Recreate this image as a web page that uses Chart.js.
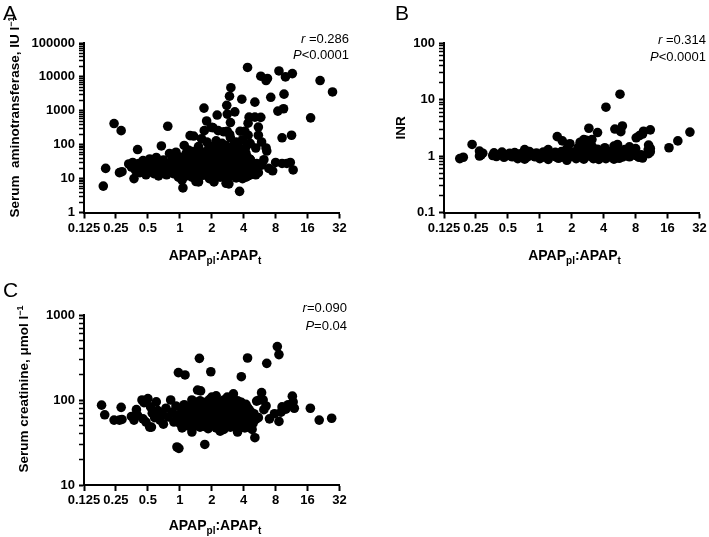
<!DOCTYPE html>
<html>
<head>
<meta charset="utf-8">
<script src="https://cdn.jsdelivr.net/npm/chart.js@4.4.1/dist/chart.umd.min.js"></script>
<style>
  body { margin: 0; background: #fff; }
  #wrap { position: relative; width: 709px; height: 537px; overflow: hidden; }
  canvas { position: absolute; }
</style>
</head>
<body>
<div id="wrap">
  <canvas id="chartA" width="360" height="270" style="left:0;top:0"></canvas>
  <canvas id="chartB" width="349" height="270" style="left:360px;top:0"></canvas>
  <canvas id="chartC" width="360" height="267" style="left:0;top:270px"></canvas>
</div>
<script>
// x axis: APAPpl:APAPt ratio (log2 ticks)
const ratioTicks = [0.125, 0.25, 0.5, 1, 2, 4, 8, 16, 32];
const ratioLabels = ['0.125', '0.25', '0.5', '1', '2', '4', '8', '16', '32'];

// A: serum aminotransferase (IU/l) vs ratio
const pointsA = [
  [0.19,6],[0.2,20],[0.24,420],[0.28,260],[0.27,15],[0.285,16],
  [0.33,27],[0.35,22],[0.37,10],[0.38,18],[0.4,72],[0.41,28],[0.42,15],[0.45,34],[0.46,21],[0.48,13],
  [0.5,28],[0.52,38],[0.53,17],[0.55,24],[0.57,14],[0.58,31],[0.6,42],[0.62,20],[0.63,12],[0.65,26],
  [0.67,92],[0.68,16],[0.7,35],[0.72,22],[0.75,13],[0.77,350],[0.78,28],[0.8,55],[0.82,19],[0.85,40],
  [0.87,14],[0.9,25],[0.92,60],[0.95,32],[0.97,11],
  [0.36,30],[0.43,25],[0.47,17],[0.51,22],[0.56,33],[0.6,16],[0.66,20],[0.71,28],[0.74,17],[0.79,23],
  [0.84,30],[0.88,20],[0.93,17],[0.96,45],
  [1.05,9],[1.3,11],[1.5,8],[1.9,10],[2.1,8],[2.4,11],[2.9,7],[3.3,12],[3.9,10],[4.4,12],
  [1.15,12],[1.4,11.5],[1.65,12.5],[1.9,12],[2.15,11],[2.5,12.5],[2.75,11.5],[3.05,12],[3.4,10.5],[3.75,12.5],[4.2,11],
  [1.0,14],[1.2,15],[1.45,13],[1.7,15],[1.95,14],[2.2,13],[2.5,15],[2.8,14],[3.1,13],[3.5,15],[4.0,14],[4.6,13],
  [1.1,16],[1.35,16.5],[1.6,15.5],[1.85,16.5],[2.1,16],[2.4,15.5],[2.7,16.5],[3.0,16],[3.4,16],[3.85,16.5],[4.4,15.5],
  [1.05,18],[1.25,19],[1.5,17],[1.75,18],[2.0,19],[2.3,17],[2.6,18],[2.95,19],[3.3,17],[3.7,18],[4.2,19],[4.8,17],
  [1.0,20],[1.2,21],[1.45,20],[1.7,21],[1.95,20.5],[2.25,20],[2.55,21],[2.85,20],[3.2,21],[3.6,20],[4.0,21],[4.6,20],
  [0.98,22],[1.15,24],[1.4,23],[1.65,22],[1.9,24],[2.15,23],[2.45,22],[2.75,24],[3.1,23],[3.45,22],[3.9,24],[4.4,23],[5.0,22],
  [1.05,26],[1.25,25],[1.5,26.5],[1.75,25.5],[2.0,26],[2.3,25],[2.6,26],[2.9,25.5],[3.25,26.5],[3.65,25],[4.1,26],[4.7,25],
  [1.1,29],[1.3,28],[1.55,30],[1.8,29],[2.05,28],[2.35,30],[2.65,29],[3.0,28],[3.35,30],[3.8,29],[4.3,28],
  [1.15,32],[1.4,32],[1.65,33],[1.9,31.5],[2.15,32.5],[2.45,32],[2.75,33],[3.1,31.5],[3.5,32.5],[3.95,32],[4.45,31],
  [1.0,36],[1.2,35],[1.45,37],[1.7,36],[1.95,35],[2.25,37],[2.55,36],[2.9,35],[3.2,37],[3.6,36],[4.1,35],[4.6,37],
  [1.05,40],[1.3,40],[1.55,41],[1.8,40],[2.05,40.5],[2.35,39.5],[2.6,41],[2.95,40],[3.3,40],[3.7,41],[4.15,40],
  [1.1,45],[1.35,44],[1.6,46],[1.85,45],[2.1,44],[2.4,46],[2.7,45],[3.05,44],[3.4,46],[3.85,45],[4.3,44],
  [1.25,50],[1.5,51],[1.8,50],[2.15,51],[2.45,50],[2.8,50.5],[3.15,50],[3.55,51],[4.0,50],
  [1.15,56],[1.4,58],[1.7,55],[2.0,57],[2.3,56],[2.6,54],[2.95,58],[3.3,55],[3.7,57],[4.2,56],
  [1.3,63],[1.6,62],[1.95,64],[2.4,62],[2.7,63],[3.05,64],[3.4,62],[3.85,63],
  [1.2,70],[1.5,68],[1.85,72],[2.2,70],[2.5,68],[2.85,72],[3.2,70],[3.6,68],[4.0,73],
  [1.1,95],[1.5,88],[1.9,92],[2.3,85],[2.7,95],[3.1,88],[3.5,92],[4.2,85],
  [1.07,5.3],[1.42,8.2],[2.73,7.3],[3.66,4.2],
  [1.25,185],[1.35,180],[1.6,150],[1.8,120],[1.97,325],[2.05,320],[2.2,130],[2.5,110],[2.6,240],[2.8,250],[2.95,200],[3.0,160],
  [3.4,120],[3.7,250],[4.1,250],[4.4,190],[4.6,110],[3.9,140],[2.3,260],[1.7,260],
  [1.69,1200],[1.79,500],[2.25,750],[2.77,1450],[2.8,800],[2.94,2700],[3.03,4800],[3.0,450],[3.3,930],[3.84,2200],[4.35,19000],
  [4.4,430],[4.5,650],
  [5.1,1800],[5.1,650],[5.8,640],[5.5,330],[5.5,190],[5.9,120],[5.2,80],[6.5,80],[6.6,65],
  [5.8,10500],[6.7,9000],[6.5,7800],[7.2,2500],[8.6,15000],[9.9,10000],[11.5,12500],[9.6,3100],[8.4,980],[9.5,1150],
  [9.2,160],[11.3,190],[21,7800],[27.5,3600],[17.1,620],
  [4.6,37],[5.2,13],[5.5,15],[6.2,36],[6.9,20],[8,30],[9.2,28],[11,30],[11.7,18],[5.3,28],[5.9,25],[7.5,17],[10.2,28]
];

// B: INR vs ratio
const pointsB = [
  [0.176,0.9],[0.19,0.95],[0.23,1.6],[0.27,1.22],[0.27,1.0],[0.28,1.05],[0.29,1.12],
  [0.36,1.02],[0.39,0.98],[0.42,1.06],[0.46,0.95],[0.5,1.02],[0.55,0.97],[0.6,1.04],[0.65,0.95],[0.7,1.0],[0.76,0.96],
  [0.82,1.03],[0.9,0.97],[0.97,1.02],[1.05,0.95],[1.13,1.0],[1.22,0.97],[1.32,1.04],[1.43,0.96],[1.55,1.01],[1.68,0.95],
  [1.82,1.03],[1.96,0.98],[2.12,1.02],[2.3,0.96],[2.48,1.03],[2.68,0.97],[2.9,1.01],[3.15,0.95],[3.4,1.03],[3.7,0.97],
  [4.0,1.02],[4.35,0.96],[4.7,1.01],[5.1,0.97],[5.5,1.03],[6.0,0.96],[6.5,1.02],[7.0,0.97],[7.6,1.04],[8.3,1.0],[9.0,1.05],
  [0.45,1.08],[0.62,1.08],[0.85,1.08],[1.1,1.08],[1.5,1.1],[1.9,1.08],[2.2,1.1],[2.6,1.08],[3.5,1.1],[4.8,1.1],
  [6.2,1.07],[7.3,1.08],
  [0.37,1.14],[0.44,1.17],[0.52,1.12],[0.58,1.15],[0.68,1.12],[0.8,1.2],[0.93,1.13],[1.08,1.18],[1.25,1.12],[1.4,1.16],
  [1.6,1.2],[1.85,1.12],[2.05,1.17],[2.4,1.22],[2.75,1.13],[3.0,1.18],[3.3,1.24],[3.8,1.14],[4.4,1.2],[5.2,1.13],[5.8,1.18],
  [6.8,1.12],[7.8,1.16],
  [0.62,0.9],[0.72,0.88],[1.0,0.9],[1.2,0.87],[1.5,0.91],[1.8,0.84],[2.2,0.9],[2.6,0.88],[3.2,0.9],[3.6,0.87],[4.2,0.9],
  [5.0,0.88],[5.6,0.91],[8.6,0.95],[9.3,0.92],
  [0.72,1.3],[1.2,1.3],[1.8,1.35],[2.3,1.42],[2.5,1.55],[2.7,1.45],[3.1,1.5],[3.5,1.32],[4.1,1.4],[5.0,1.5],[5.4,1.6],
  [6.3,1.3],[8.0,1.35],[10.5,1.28],[10.6,1.56],[11,1.36],[11,1.19],[10.6,1.1],[7.0,1.45],
  [1.46,2.2],[1.63,1.85],[1.92,1.65],[2.4,1.75],[2.6,1.95],[2.75,1.9],[2.9,3.1],[3.1,1.95],[3.5,2.6],[4.2,7.3],[5.7,12.4],
  [5.1,3.0],[5.8,2.7],[6.0,3.4],[8.1,2.1],[8.7,2.3],[9.3,2.45],[9.5,2.75],[11,2.9],[16.5,1.4],[20,1.85],[26,2.65]
];

// C: serum creatinine (umol/l) vs ratio
const pointsC = [
  [0.183,87],[0.196,67],[0.24,58],[0.27,58],[0.285,59],[0.28,82],
  [0.35,64],[0.37,58],[0.39,77],[0.4,66],[0.44,100],[0.46,93],[0.5,104],[0.53,83],[0.52,48],[0.54,48],[0.45,60],[0.48,55],
  [0.55,70],[0.58,62],[0.6,95],[0.62,75],[0.65,58],[0.68,68],[0.7,52],[0.74,80],[0.78,63],[0.82,100],[0.85,72],[0.88,55],
  [0.92,85],[0.95,65],[0.94,28],[0.98,27],[0.97,210],[1.12,197],
  [1.05,47],[1.3,46],[1.55,48],[1.85,46],[2.2,47],[2.6,45],[3.0,48],[3.5,46],[4.1,47],
  [1.15,50],[1.4,50],[1.7,49],[2.0,50],[2.4,49],[2.8,50],[3.25,50],[3.75,49],[4.4,50],
  [1.0,53],[1.2,54],[1.45,52],[1.7,54],[2.0,53],[2.35,52],[2.75,54],[3.2,53],[3.7,52],[4.3,54],[4.9,53],
  [1.05,57],[1.3,57],[1.55,56],[1.8,57],[2.1,56],[2.45,57],[2.85,56],[3.3,57],[3.8,56],[4.3,57],[4.9,56],
  [0.95,60],[1.1,61],[1.35,59],[1.6,61],[1.9,60],[2.2,59],[2.55,61],[2.95,60],[3.4,59],[3.9,61],[4.5,60],[5.2,59],
  [1.1,64],[1.35,64],[1.6,64],[1.9,65],[2.25,64],[2.65,64],[3.05,65],[3.5,64],[4.1,64],[4.8,64],
  [1.0,68],[1.2,69],[1.45,67],[1.75,68],[2.05,69],[2.4,67],[2.8,68],[3.25,69],[3.75,67],[4.3,68],[5.0,69],
  [1.1,72],[1.35,73],[1.65,72],[1.95,73],[2.25,72],[2.6,73],[3.0,72],[3.5,73],[4.05,72],[4.7,72],
  [1.05,77],[1.3,78],[1.55,76],[1.85,77],[2.15,78],[2.5,76],[2.9,77],[3.35,78],[3.9,76],[4.5,77],
  [1.2,82],[1.45,82],[1.75,83],[2.1,82],[2.45,83],[2.8,82],[3.2,83],[3.7,82],[4.35,82],
  [1.1,88],[1.4,87],[1.7,89],[2.0,88],[2.35,87],[2.7,89],[3.1,88],[3.6,87],[4.2,89],
  [1.45,94],[1.75,94],[2.05,95],[2.4,94],[2.8,95],[3.3,94],[3.8,94],
  [1.3,100],[1.55,98],[1.9,101],[2.2,99],[2.6,100],[3.0,102],[3.5,98],
  [1.3,42],[2.4,43],[3.5,42],[4.8,45],[2.0,108],[2.2,112],[2.8,108],[3.2,118],
  [1.47,131],[1.57,128],[1.53,309],[1.96,215],[1.72,30],[3.8,188],[4.35,312],[6.6,270],[8.3,425],[8.6,342],
  [5.1,36],[5.9,122],[17,80],[20.6,58],[27,61],[11.5,111],[11.7,95],[12,80],[9.2,83],[9.0,72],[8.6,56],[7.0,60],
  [7.8,69],[6.2,77],[6.1,100],[5.6,100],[5.3,97],[5.5,62],[6.5,85],[10,78],[10.5,88]
];

const FONT = '"Liberation Sans", Arial, sans-serif';
const B14 = 'bold 14px ' + FONT;
const B13 = 'bold 13.5px ' + FONT;
const B10 = 'bold 10px ' + FONT;
const B9 = 'bold 9px ' + FONT;
const R13 = '13px ' + FONT;
const I13 = 'italic 13px ' + FONT;

// log10 ticks incl. minor ones
function logTicks(min, max) {
  const out = [];
  for (let e = Math.round(Math.log10(min)); e < Math.round(Math.log10(max)); e++) {
    for (let m = 1; m < 10; m++) out.push(m * Math.pow(10, e));
  }
  out.push(max);
  return out;
}
function isDecade(v) {
  const l = Math.log10(v);
  return Math.abs(l - Math.round(l)) < 1e-6;
}

// text pieces [text, font, dy]
function drawRuns(ctx, runs, x, y, align) {
  let w = 0;
  runs.forEach(r => { ctx.font = r[1]; w += ctx.measureText(r[0]).width; });
  let cx = align === 'center' ? x - w / 2 : align === 'right' ? x - w : x;
  ctx.textAlign = 'left';
  ctx.textBaseline = 'alphabetic';
  runs.forEach(r => {
    ctx.font = r[1];
    ctx.fillText(r[0], cx, y + (r[2] || 0));
    cx += ctx.measureText(r[0]).width;
  });
}

function makePanel(id, points, cfg) {
  const textPlugin = {
    id: 'texts',
    afterDraw(chart) {
      const ctx = chart.ctx;
      ctx.save();
      ctx.fillStyle = '#000';
      drawRuns(ctx, [[cfg.letter, '21px ' + FONT]], cfg.letterPos[0], cfg.letterPos[1], 'left');
      drawRuns(ctx, [['APAP', B14], ['pl', B10, 4], [':APAP', B14], ['t', B10, 4]], cfg.xTitlePos[0], cfg.xTitlePos[1], 'center');
      drawRuns(ctx, cfg.rLine, cfg.statPos[0], cfg.statPos[1], 'right');
      drawRuns(ctx, cfg.pLine, cfg.statPos[0], cfg.statPos[2], 'right');
      ctx.translate(cfg.yTitlePos[0], cfg.yTitlePos[1]);
      ctx.rotate(-Math.PI / 2);
      drawRuns(ctx, cfg.yTitle, 0, 0, 'center');
      ctx.restore();
    }
  };

  const yTicks = logTicks(cfg.yMin, cfg.yMax);

  new Chart(document.getElementById(id), {
    type: 'scatter',
    data: {
      datasets: [{
        data: points.map(p => ({ x: p[0], y: p[1] })),
        backgroundColor: '#000',
        borderWidth: 0,
        pointRadius: 4.8,
        pointHoverRadius: 4.8
      }]
    },
    options: {
      responsive: false,
      animation: false,
      events: [],
      layout: { padding: { left: 0, top: cfg.top, right: cfg.right, bottom: 0 } },
      plugins: { legend: { display: false }, tooltip: { enabled: false } },
      scales: {
        x: {
          type: 'logarithmic',
          min: 0.125,
          max: 32,
          afterBuildTicks: s => { s.ticks = ratioTicks.map(v => ({ value: v })); },
          afterFit: s => { s.height = cfg.xHeight; },
          ticks: {
            autoSkip: false,
            maxRotation: 0,
            padding: 2,
            color: '#000',
            font: { family: FONT, size: 13, weight: 'bold' },
            callback: (v, i) => ratioLabels[i]
          },
          grid: { drawOnChartArea: false, drawTicks: true, tickLength: 6, tickWidth: 2, tickColor: '#000' },
          border: { display: true, color: '#000', width: 2 }
        },
        y: {
          type: 'logarithmic',
          min: cfg.yMin,
          max: cfg.yMax,
          afterBuildTicks: s => { s.ticks = yTicks.map(v => ({ value: v })); },
          afterFit: s => { s.width = 84; },
          ticks: {
            autoSkip: false,
            padding: 4,
            color: '#000',
            font: { family: FONT, size: 13, weight: 'bold' },
            callback: v => isDecade(v) ? String(Number(v.toPrecision(3))) : ''
          },
          grid: {
            drawOnChartArea: false, drawTicks: true, tickLength: 5, tickColor: '#000',
            tickWidth: c => (c.tick && isDecade(c.tick.value)) ? 2 : 1.5
          },
          border: { display: true, color: '#000', width: 2 }
        }
      }
    },
    plugins: [textPlugin]
  });
}

makePanel('chartA', pointsA, {
  yMin: 1, yMax: 100000, top: 43, right: 20.5, xHeight: 57.5,
  letter: 'A', letterPos: [3, 20],
  xTitlePos: [215, 260],
  statPos: [349, 43, 59],
  rLine: [['r', I13], [' =0.286', R13]],
  pLine: [['P', I13], ['<0.0001', R13]],
  yTitlePos: [19, 117],
  yTitle: [['Serum  aminotransferase, IU l', B13], ['\u22121', B9, -5]]
});

makePanel('chartB', pointsB, {
  yMin: 0.1, yMax: 100, top: 43, right: 9.5, xHeight: 57.5,
  letter: 'B', letterPos: [35, 20],
  xTitlePos: [214.5, 260],
  statPos: [346, 44, 61],
  rLine: [['r', I13], [' =0.314', R13]],
  pLine: [['P', I13], ['<0.0001', R13]],
  yTitlePos: [45, 128],
  yTitle: [['INR', B13]]
});

makePanel('chartC', pointsC, {
  yMin: 10, yMax: 1000, top: 45, right: 20.5, xHeight: 52,
  letter: 'C', letterPos: [3, 27],
  xTitlePos: [215, 260],
  statPos: [347, 42, 60],
  rLine: [['r', I13], ['=0.090', R13]],
  pLine: [['P', I13], ['=0.04', R13]],
  yTitlePos: [28, 119],
  yTitle: [['Serum creatinine, \u03bcmol l', B13], ['\u22121', B9, -5]]
});
</script>
</body>
</html>
